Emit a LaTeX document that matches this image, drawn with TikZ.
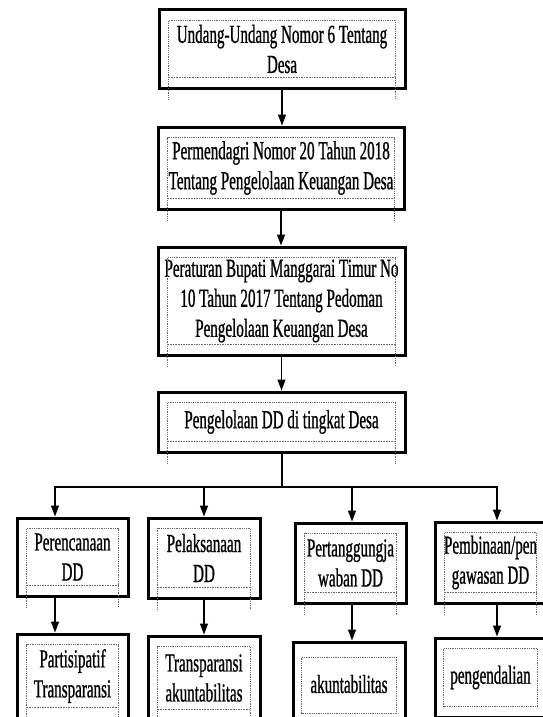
\documentclass[tikz,border=0pt]{standalone}
\usepackage{fontspec}
\setmainfont[FakeStretch=0.58,FakeBold=0.8]{Liberation Serif}
\usetikzlibrary{arrows.meta,calc}
\tikzset{
  kotak/.style={draw, line width=3pt, align=center, inner sep=0pt,
    font=\fontsize{26}{30}\selectfont},
  bingkai/.style={black!60, densely dotted, line width=0.8pt},
  panah/.style={line width=1.3pt, -{Triangle[length=11pt,width=8pt]}},
  garis/.style={line width=1.3pt}
}
\begin{document}
\begin{tikzpicture}[x=1pt,y=-1pt]
  \path[use as bounding box, clip] (0,0) rectangle (543,717);
  % hierarki peraturan
  \node[kotak, minimum width=246, minimum height=78] (uu) at (282,49) {Undang-Undang Nomor 6 Tentang\\Desa};
  \node[kotak, minimum width=246, minimum height=82] (perm) at (281,168) {Permendagri Nomor 20 Tahun 2018\\Tentang Pengelolaan Keuangan Desa};
  \node[kotak, minimum width=247, minimum height=108] (perbup) at (281.5,301) {Peraturan Bupati Manggarai Timur No\\10 Tahun 2017 Tentang Pedoman\\Pengelolaan Keuangan Desa};
  \node[kotak, minimum width=247, minimum height=60] (dd) at (281.5,422) {Pengelolaan DD di tingkat Desa};
  % tahapan
  \node[kotak, minimum width=111, minimum height=78] (rnc) at (72.5,557) {Perencanaan\\DD};
  \node[kotak, minimum width=112, minimum height=80] (pel) at (204,558) {Pelaksanaan\\DD};
  \node[kotak, minimum width=111, minimum height=80] (ptj) at (350.5,563) {Pertanggungja\\waban DD};
  \node[kotak, minimum width=111, minimum height=81] (pmb) at (490.5,562.5) {Pembinaan/pen\\gawasan DD};
  % prinsip
  \node[kotak, minimum width=111, minimum height=84] (par) at (72.5,676) {Partisipatif\\Transparansi};
  \node[kotak, minimum width=112, minimum height=84] (tra) at (204,678) {Transparansi\\akuntabilitas};
  \node[kotak, minimum width=112, minimum height=84] (aku) at (349,684) {akuntabilitas};
  \node[kotak, minimum width=111, minimum height=79] (pgd) at (490.5,677.5) {pengendalian};
  % bingkai titik-titik
  \foreach \n in {uu,perm,perbup,dd,rnc,pel,ptj,pmb,par,tra} {
    \draw[bingkai] ($(\n.south west)+(11,10)$) -- ($(\n.north west)+(11,12)$) -- ($(\n.north east)+(-11,12)$) -- ($(\n.south east)+(-11,10)$);
    \draw[bingkai, line width=1.6pt] ($(\n.south west)+(11,-12)$) -- ($(\n.south east)+(-11,-12)$);
  }
  \draw[bingkai] ($(aku.north west)+(10,17)$) rectangle ($(aku.south east)+(-10,-14)$);
  \draw[bingkai] ($(pgd.north west)+(10,12)$) rectangle ($(pgd.south east)+(-10,-12)$);
  % panah
  \draw[panah] (uu.south) -- (uu.south |- perm.north);
  \draw[panah] (perm.south) -- (perm.south |- perbup.north);
  \draw[panah] (perbup.south) -- (perbup.south |- dd.north);
  \coordinate (cabang) at (282,487);
  \coordinate (a1) at (55,487);
  \coordinate (a4) at (497,487);
  \draw[garis] (dd.south -| cabang) -- (cabang);
  \draw[panah] (cabang) -| (a1 |- rnc.north);
  \draw[panah] (cabang) -| (a4 |- pmb.north);
  \draw[panah] (pel.north |- cabang) -- (pel.north);
  \draw[panah] (352,487) -- (352,0 |- ptj.north);
  \draw[panah] (a1 |- rnc.south) -- (a1 |- par.north);
  \draw[panah] (pel.south) -- (pel.south |- tra.north);
  \draw[panah] (352,0 |- ptj.south) -- (352,0 |- aku.north);
  \draw[panah] (a4 |- pmb.south) -- (a4 |- pgd.north);
\end{tikzpicture}
\end{document}
